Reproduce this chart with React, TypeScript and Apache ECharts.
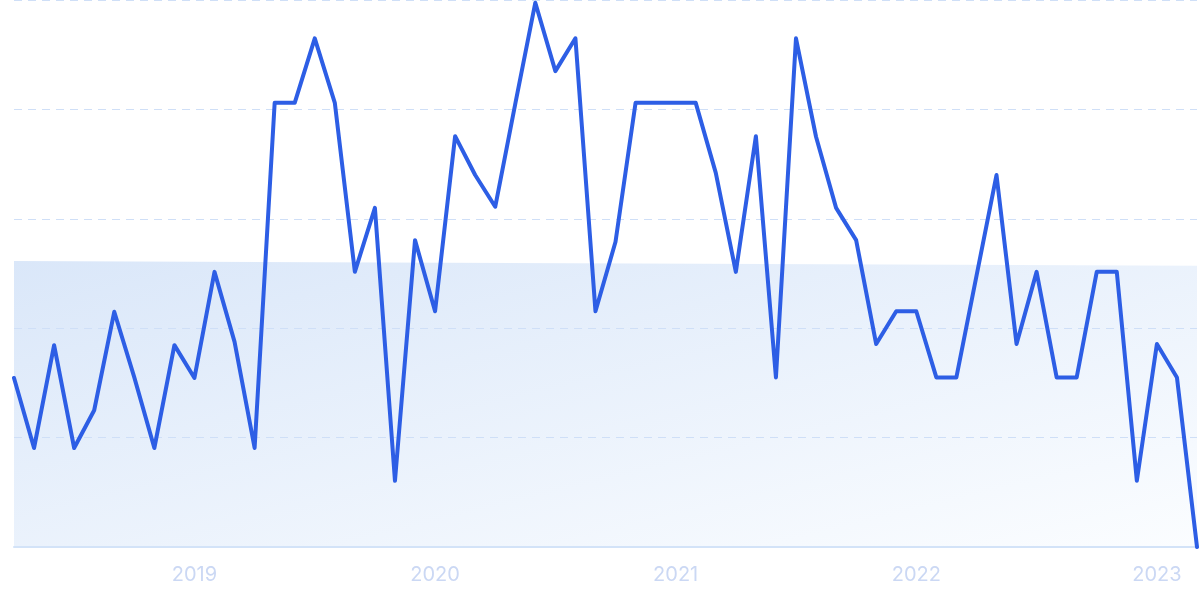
import React, { useEffect, useRef } from "react";
import * as echarts from "echarts";

const months: string[] = (() => {
  const out: string[] = [];
  let y = 2018;
  let m = 4;
  for (let i = 0; i < 60; i++) {
    out.push(`${y}-${String(m).padStart(2, "0")}`);
    m++;
    if (m > 12) {
      m = 1;
      y++;
    }
  }
  return out;
})();

const interest: number[] = [
  30.9, 18.1, 36.9, 18.1, 25, 43, 31, 18.1, 36.9, 30.9,
  50.3, 37.5, 18.1, 81.2, 81.2, 93, 81.2, 50.3, 62, 12.1,
  56.1, 43.1, 75.1, 68, 62.2, 81, 99.5, 87, 93, 43.1,
  55.8, 81.2, 81.2, 81.2, 81.2, 68.4, 50.3, 75.1, 31, 93,
  75, 62, 56.1, 37.1, 43.1, 43.1, 31, 31, 49.5, 68,
  37.1, 50.3, 31, 31, 50.3, 50.3, 12.1, 37.1, 31, 0,
];

// shaded band: value at first and last month
const bandStart = 52.3;
const bandEnd = 51.4;
const band: (number | null)[] = months.map((_, i) =>
  i === 0 ? bandStart : i === months.length - 1 ? bandEnd : null
);

const yMin = 0;
const yMax = 100;
const yStep = 20;

export default function App() {
  const ref = useRef<HTMLDivElement>(null);

  useEffect(() => {
    if (!ref.current) return;
    const chart = echarts.init(ref.current, undefined, { renderer: "svg" });
    chart.setOption({
      animation: false,
      grid: { left: 14, right: 3, top: 0, bottom: 52, containLabel: false },
      xAxis: {
        type: "category",
        data: months,
        boundaryGap: false,
        z: 1,
        axisLine: { show: true, lineStyle: { color: "#d3e3f8", width: 2 } },
        axisTick: { show: false },
        splitLine: { show: false },
        axisLabel: {
          interval: (_i: number, v: string) => v.endsWith("-01"),
          formatter: (v: string) => v.slice(0, 4),
          color: "#cbd8f4",
          fontFamily: "Inter",
          fontSize: 20,
          margin: 17,
        },
      },
      yAxis: {
        type: "value",
        min: yMin,
        max: yMax,
        interval: yStep,
        z: 1,
        axisLine: { show: false },
        axisTick: { show: false },
        axisLabel: { show: false },
        splitLine: {
          show: true,
          lineStyle: { color: "#cfdff7", width: 1.2, type: [8, 6] },
        },
      },
      series: [
        {
          type: "line",
          data: band,
          connectNulls: true,
          symbol: "none",
          lineStyle: { width: 0, opacity: 0 },
          areaStyle: {
            opacity: 1,
            color: new echarts.graphic.LinearGradient(0, 0, 1, 1, [
              { offset: 0, color: "#dae7f9" },
              { offset: 1, color: "#fbfdff" },
            ]),
          },
          silent: true,
          z: 0,
        },
        {
          type: "line",
          data: interest,
          symbol: "none",
          lineStyle: { color: "#2d5ee5", width: 4, cap: "round", join: "round" },
          z: 3,
        },
      ],
    });
    return () => chart.dispose();
  }, []);

  return (
    <div
      ref={ref}
      style={{ position: "fixed", left: 0, top: 0, width: 1200, height: 599 }}
    />
  );
}
